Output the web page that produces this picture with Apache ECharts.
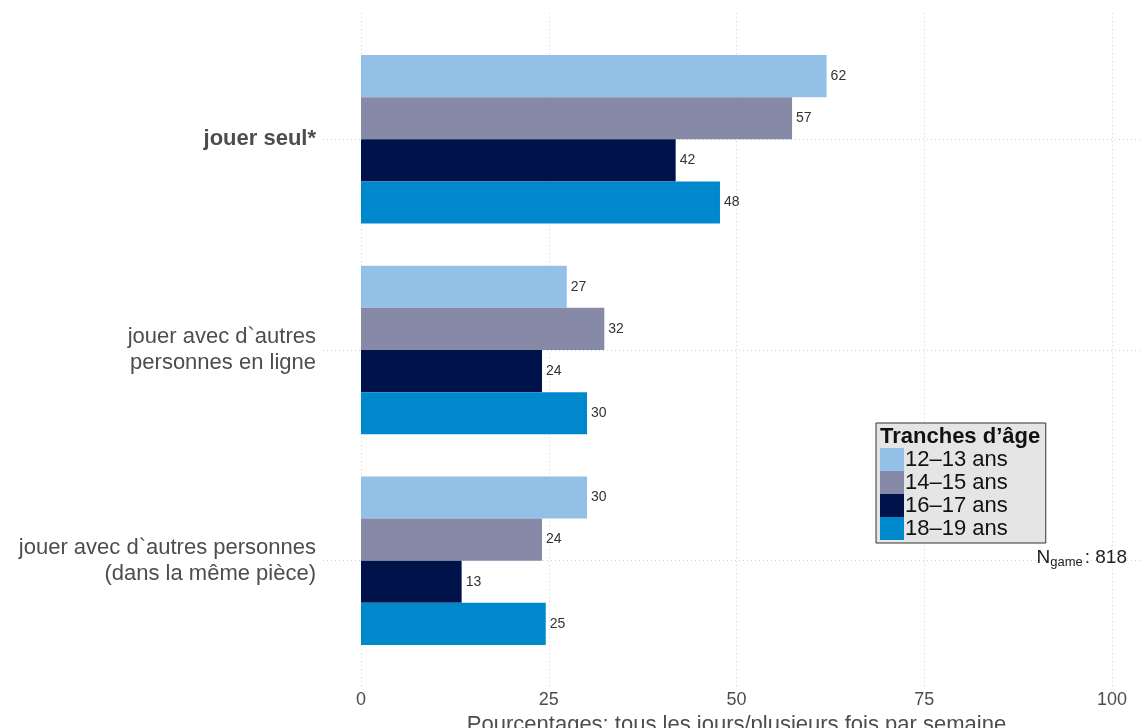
<!DOCTYPE html>
<html><head><meta charset="utf-8">
<script src="https://cdn.jsdelivr.net/npm/echarts@6/dist/echarts.min.js"></script>
<style>html,body{margin:0;padding:0;background:#fff}#c{width:1140px;height:728px}</style>
</head><body><div id="c"></div>
<script>
const categories = ['jouer seul*', 'jouer avec d`autres\npersonnes en ligne', 'jouer avec d`autres personnes\n(dans la même pièce)'];
const seriesNames = ['12–13 ans', '14–15 ans', '16–17 ans', '18–19 ans'];
const s1213 = [62.0, 27.4, 30.1];
const s1415 = [57.4, 32.4, 24.1];
const s1617 = [41.9, 24.1, 13.4];
const s1819 = [47.8, 30.1, 24.6];
const xTicks = [0, 25, 50, 75, 100];
const colors = ['#92c0e6', '#878aa6', '#00124a', '#0088cc'];
const values = [s1213, s1415, s1617, s1819];
const F = 'Liberation Sans, Arial, Helvetica, sans-serif';
const GRIDC = '#d4d4d4';

const chart = echarts.init(document.getElementById('c'));
const series = values.map((v, i) => ({
  name: seriesNames[i], type: 'bar', data: v,
  xAxisIndex: 0, yAxisIndex: 0,
  barGap: '0%', barCategoryGap: '20%',
  itemStyle: { color: colors[i] },
  label: { show: true, position: 'right', distance: 4, color: '#333', fontSize: 14, fontFamily: F,
           formatter: p => Math.round(p.value) },
  z: 3
}));
chart.setOption({
  animation: false,
  textStyle: { fontFamily: F },
  grid: [
    { left: 361, right: 28, top: 34, bottom: 62, containLabel: false, outerBoundsMode: 'none', z: 2 },
    { left: 323, right: 0, top: 34, bottom: 62, containLabel: false, outerBoundsMode: 'none', z: 0 },
    { left: 361, right: 28, top: 13, bottom: 41, containLabel: false, outerBoundsMode: 'none', z: 0 }
  ],
  xAxis: [
    {
      gridIndex: 0, type: 'value', min: xTicks[0], max: xTicks[xTicks.length - 1], interval: 25,
      axisLine: { show: false }, axisTick: { show: false },
      axisLabel: { color: '#4d4d4d', fontSize: 18, margin: 25, fontFamily: F },
      splitLine: { show: false },
      name: 'Pourcentages: tous les jours/plusieurs fois par semaine',
      nameLocation: 'middle', nameGap: 37,
      nameTextStyle: { color: '#4d4d4d', fontSize: 22, fontFamily: F }
    },
    { gridIndex: 1, type: 'value', min: 0, max: 1, show: false },
    {
      gridIndex: 2, type: 'value', min: xTicks[0], max: xTicks[xTicks.length - 1], interval: 25,
      axisLine: { show: false }, axisTick: { show: false }, axisLabel: { show: false },
      splitLine: { show: true, lineStyle: { color: GRIDC, type: [1, 3] } }
    }
  ],
  yAxis: [
    {
      gridIndex: 0, type: 'category', data: categories, inverse: true,
      axisLine: { show: false }, axisTick: { show: false },
      axisLabel: {
        margin: 45, fontSize: 22, lineHeight: 26, color: '#4d4d4d', fontFamily: F,
        formatter: (v, i) => i === 0 ? '{b|' + v + '}' : v,
        rich: { b: { fontWeight: 'bold', fontSize: 22, color: '#4d4d4d', fontFamily: F } }
      },
      splitLine: { show: false }
    },
    {
      gridIndex: 1, type: 'category', data: categories, inverse: true,
      axisLine: { show: false }, axisLabel: { show: false }, splitLine: { show: false },
      axisTick: { show: true, inside: true, alignWithLabel: true, length: 817,
                  lineStyle: { color: GRIDC, type: [1, 3] } }
    },
    { gridIndex: 2, type: 'value', min: 0, max: 1, show: false }
  ],
  legend: {
    orient: 'vertical', left: 876, top: 423,
    data: seriesNames,
    itemWidth: 24, itemHeight: 23, itemGap: 0,
    icon: 'rect',
    padding: [25, 38, 3, 4],
    backgroundColor: '#e5e5e5', borderColor: '#333', borderWidth: 1,
    textStyle: { fontSize: 22, lineHeight: 23, color: '#111', fontFamily: F, padding: [0, 0, 0, -4] },
    selectedMode: false
  },
  title: [
    { text: 'Tranches d’âge', left: 880, top: 426, padding: 0,
      textStyle: { fontSize: 22, fontWeight: 'bold', color: '#111', fontFamily: F } },
    { text: '{n|N}{s|game}{n|: 818}', right: 13, top: 546, padding: 0,
      textStyle: { fontWeight: 'normal', rich: {
        n: { fontSize: 19, color: '#222', fontFamily: F, fontWeight: 'normal' },
        s: { fontSize: 13, color: '#222', fontFamily: F, fontWeight: 'normal', verticalAlign: 'bottom', padding: [10, 2, 0, 0] }
      } } }
  ],
  series: series
});
</script></body></html>
